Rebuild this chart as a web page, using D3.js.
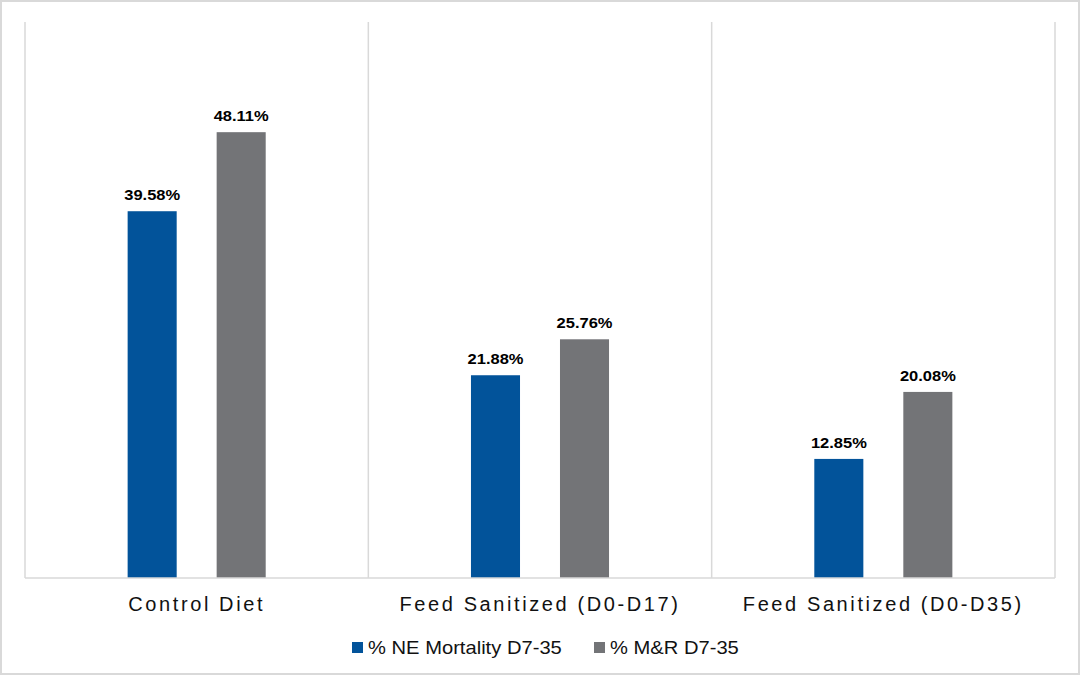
<!DOCTYPE html>
<html>
<head>
<meta charset="utf-8">
<script src="https://cdn.jsdelivr.net/npm/d3@7"></script>
<style>
  html, body { margin: 0; padding: 0; background: #fff; }
  svg { display: block; font-family: Arial, "Liberation Sans", sans-serif; }
</style>
</head>
<body>
<div id="chart"></div>
<script>
//Data
const categories = ['Control Diet', 'Feed Sanitized (D0-D17)', 'Feed Sanitized (D0-D35)'];
const seriesNames = ['% NE Mortality D7-35', '% M&R D7-35'];
const neMortality = [39.58, 21.88, 12.85];
const mrValues = [48.11, 25.76, 20.08];

//Visual
const width = 1080;
const height = 675;
const colors = ['#02539a', '#737477'];
const gridColor = '#d9d9d9';
const margin = { top: 22, right: 25, bottom: 97, left: 25 };

const rows = categories.map((c, i) => ({ category: c, values: [neMortality[i], mrValues[i]] }));

const svg = d3.select('#chart')
  .append('svg')
  .attr('width', width)
  .attr('height', height);

// outer frame
svg.append('rect')
  .attr('x', 1).attr('y', 1)
  .attr('width', width - 2).attr('height', height - 2)
  .attr('fill', '#fff')
  .attr('stroke', gridColor)
  .attr('stroke-width', 2);

const x0 = d3.scaleBand()
  .domain(categories)
  .range([margin.left, width - margin.right])
  .paddingInner(0)
  .paddingOuter(0);

const x1 = d3.scaleBand()
  .domain(seriesNames)
  .range([0, x0.bandwidth()])
  .paddingInner(0.449)
  .paddingOuter(1.153);

const y = d3.scaleLinear()
  .domain([0, 60])
  .range([height - margin.bottom, margin.top]);

// category separators
const bounds = categories.map(c => x0(c)).concat([x0.range()[1]]);
svg.selectAll('line.sep')
  .data(bounds)
  .enter()
  .append('line')
  .attr('class', 'sep')
  .attr('x1', d => d).attr('x2', d => d)
  .attr('y1', y(60)).attr('y2', y(0))
  .attr('stroke', gridColor)
  .attr('stroke-width', 1.5);

// bars
const groups = svg.selectAll('g.group')
  .data(rows)
  .enter()
  .append('g')
  .attr('class', 'group')
  .attr('transform', d => `translate(${x0(d.category)},0)`);

groups.selectAll('rect')
  .data(d => d.values.map((v, i) => ({ name: seriesNames[i], value: v, i })))
  .enter()
  .append('rect')
  .attr('x', d => x1(d.name))
  .attr('y', d => y(d.value))
  .attr('width', x1.bandwidth())
  .attr('height', d => y(0) - y(d.value))
  .attr('fill', d => colors[d.i]);

groups.selectAll('text.val')
  .data(d => d.values.map((v, i) => ({ name: seriesNames[i], value: v })))
  .enter()
  .append('text')
  .attr('class', 'val')
  .attr('transform', d => `translate(${x1(d.name) + x1.bandwidth() / 2},${y(d.value) - 11}) scale(1.1,1)`)
  .attr('text-anchor', 'middle')
  .style('font-size', '15px')
  .style('font-weight', 'bold')
  .attr('fill', '#000')
  .text(d => d.value.toFixed(2) + '%');

// baseline
svg.append('line')
  .attr('x1', x0.range()[0]).attr('x2', x0.range()[1])
  .attr('y1', y(0)).attr('y2', y(0))
  .attr('stroke', gridColor)
  .attr('stroke-width', 1.5);

// category labels
svg.selectAll('text.cat')
  .data(categories)
  .enter()
  .append('text')
  .attr('class', 'cat')
  .attr('x', d => x0(d) + x0.bandwidth() / 2)
  .attr('y', 611)
  .attr('text-anchor', 'middle')
  .style('font-size', '20px')
  .style('letter-spacing', '2.6px')
  .attr('fill', '#111')
  .text(d => d);

// legend
const legendX = [352, 594];
const legend = svg.selectAll('g.legend')
  .data(seriesNames)
  .enter()
  .append('g')
  .attr('class', 'legend')
  .attr('transform', (d, i) => `translate(${legendX[i]},642)`);

legend.append('rect')
  .attr('width', 11).attr('height', 11)
  .attr('fill', (d, i) => colors[i]);

legend.append('text')
  .attr('transform', 'translate(16,11.5) scale(1.12,1)')
  .style('font-size', '18px')
  .attr('fill', '#111')
  .text(d => d);
</script>
</body>
</html>
